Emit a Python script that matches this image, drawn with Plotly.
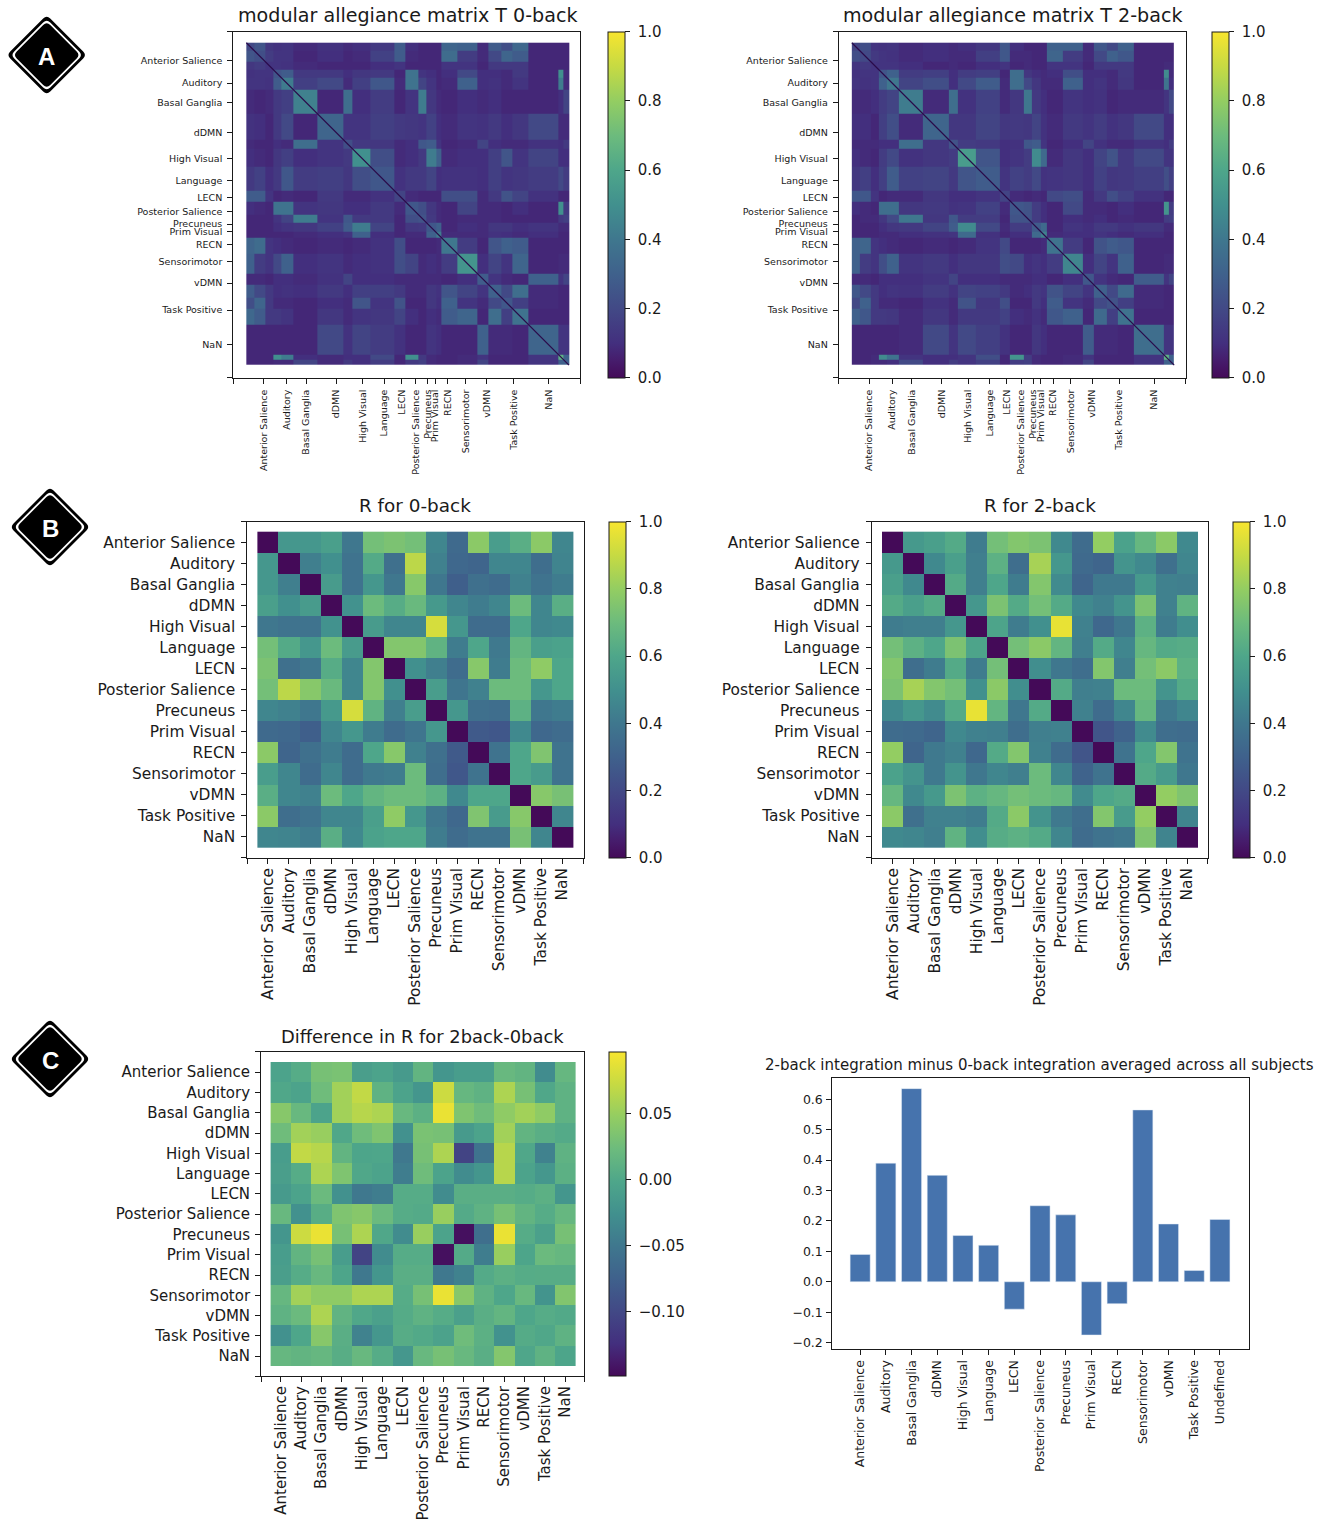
import plotly.graph_objects as go

W, H = 1325, 1526

networks = ["Anterior Salience", "Auditory", "Basal Ganglia", "dDMN", "High Visual", "Language", "LECN",
            "Posterior Salience", "Precuneus", "Prim Visual", "RECN", "Sensorimotor", "vDMN", "Task Positive", "NaN"]
bar_labels = networks[:-1] + ["Undefined"]
module_ticks = [13, 30, 44.6, 67, 86.5, 102.5, 115.5, 126, 135, 140.5, 150, 163, 179, 199, 225]

# node blocks (block edges, then upper triangles)
block_edges = [0, 6, 14, 20, 26, 35, 53, 72, 79, 92, 110, 118, 128, 134, 141, 145, 157, 172, 180, 190, 198, 210, 232, 236, 240]
diagonal_ends = [0, 240]

t_0back = [
    [.20, .25, .13, .11, .12, .09, .11, .09, .10, .14, .28, .10, .08, .08, .08, .32, .30, .09, .28, .22, .33, .08, .08],
    [.22, .15, .12, .12, .08, .10, .08, .09, .17, .28, .09, .08, .08, .08, .35, .15, .09, .20, .32, .28, .08, .08],
    [.12, .12, .11, .09, .08, .08, .08, .10, .12, .08, .08, .08, .08, .12, .12, .08, .14, .14, .14, .08, .08],
    [.25, .28, .14, .14, .10, .13, .14, .08, .38, .12, .10, .08, .10, .20, .10, .10, .09, .14, .08, .50],
    [.42, .16, .20, .09, .16, .26, .09, .38, .18, .12, .08, .09, .30, .10, .11, .09, .12, .08, .42],
    [.44, .08, .36, .10, .15, .08, .12, .42, .13, .09, .08, .10, .09, .10, .08, .08, .08, .10],
    [.32, .12, .12, .16, .14, .13, .12, .17, .10, .09, .12, .11, .14, .10, .13, .20, .09],
    [.22, .14, .13, .09, .10, .26, .28, .12, .08, .09, .18, .10, .09, .09, .11, .10],
    [.50, .22, .09, .10, .14, .42, .30, .09, .10, .10, .16, .25, .12, .18, .10],
    [.26, .11, .14, .14, .18, .10, .11, .11, .10, .16, .12, .13, .15, .20],
    [.18, .09, .08, .08, .08, .22, .22, .09, .14, .24, .18, .11, .08],
    [.26, .22, .13, .09, .08, .18, .09, .09, .08, .10, .08, .50],
    [.24, .14, .09, .08, .09, .09, .09, .08, .08, .08, .14],
    [.26, .30, .08, .10, .09, .13, .13, .10, .12, .09],
    [.42, .09, .09, .09, .11, .10, .09, .10, .08],
    [.40, .15, .08, .25, .30, .28, .08, .08],
    [.52, .10, .18, .12, .32, .08, .09],
    [.28, .12, .09, .08, .30, .12],
    [.30, .20, .36, .09, .08],
    [.26, .16, .09, .08],
    [.38, .08, .08],
    [.32, .12],
    [.65],
]
t_0back_tail = [.08, .08, .08, .09, .09, .18, .09, .14, .10, .15, .08, .14, .16, .09, .08, .08, .09, .18, .08, .08, .08, .12, .30, .30]

t_2back = [
    [.18, .22, .12, .11, .12, .09, .10, .09, .10, .13, .26, .10, .08, .08, .08, .30, .30, .09, .26, .20, .30, .08, .08],
    [.20, .14, .12, .11, .09, .10, .09, .09, .16, .26, .09, .09, .08, .08, .32, .15, .09, .20, .30, .26, .08, .08],
    [.12, .12, .12, .10, .08, .09, .08, .10, .12, .08, .09, .08, .08, .12, .12, .08, .14, .14, .14, .08, .09],
    [.25, .30, .15, .16, .10, .15, .16, .08, .36, .13, .10, .09, .10, .22, .10, .10, .09, .14, .08, .48],
    [.40, .18, .22, .10, .20, .28, .09, .36, .20, .13, .09, .09, .30, .10, .12, .09, .13, .08, .38],
    [.42, .09, .36, .11, .17, .09, .13, .40, .14, .10, .08, .12, .10, .11, .08, .09, .09, .12],
    [.32, .13, .13, .18, .13, .14, .13, .18, .11, .09, .14, .12, .15, .11, .13, .20, .10],
    [.24, .15, .14, .10, .11, .26, .28, .12, .08, .10, .18, .11, .09, .09, .12, .10],
    [.56, .25, .10, .12, .15, .48, .34, .09, .13, .10, .18, .24, .14, .20, .12],
    [.28, .12, .17, .15, .20, .11, .12, .13, .10, .17, .13, .14, .16, .22],
    [.18, .09, .08, .09, .08, .20, .22, .09, .14, .22, .17, .11, .08],
    [.26, .24, .15, .10, .08, .20, .09, .09, .08, .10, .08, .52],
    [.24, .15, .10, .08, .10, .09, .10, .08, .09, .08, .15],
    [.28, .34, .08, .12, .10, .14, .14, .11, .13, .09],
    [.44, .09, .10, .10, .12, .10, .09, .10, .08],
    [.38, .15, .08, .24, .28, .26, .08, .08],
    [.46, .10, .18, .12, .30, .08, .09],
    [.26, .12, .09, .08, .28, .12],
    [.30, .20, .34, .09, .08],
    [.24, .16, .09, .08],
    [.38, .08, .08],
    [.36, .12],
    [.65],
]
t_2back_tail = [.08, .08, .09, .09, .10, .20, .10, .15, .12, .16, .08, .15, .16, .09, .08, .08, .09, .18, .08, .08, .08, .12, .30, .30]

r_0back = [
    [0, .53, .53, .57, .40, .72, .74, .72, .46, .34, .78, .56, .64, .78, .46],
    [.53, 0, .43, .50, .38, .62, .37, .88, .44, .33, .32, .46, .46, .36, .45],
    [.53, .43, 0, .55, .38, .53, .40, .77, .40, .29, .37, .35, .44, .38, .42],
    [.57, .50, .55, 0, .51, .70, .63, .69, .54, .46, .42, .46, .70, .46, .64],
    [.40, .38, .38, .51, 0, .55, .46, .46, .93, .53, .35, .35, .60, .46, .47],
    [.72, .62, .53, .70, .55, 0, .76, .76, .66, .42, .60, .41, .67, .57, .58],
    [.74, .37, .40, .63, .46, .76, 0, .50, .43, .35, .77, .42, .70, .79, .60],
    [.72, .88, .77, .69, .46, .76, .50, 0, .56, .39, .44, .70, .70, .53, .60],
    [.46, .44, .40, .54, .93, .66, .43, .56, 0, .53, .37, .36, .65, .40, .42],
    [.34, .33, .29, .46, .53, .42, .35, .39, .53, 0, .27, .26, .47, .33, .35],
    [.78, .32, .37, .42, .35, .60, .77, .44, .37, .27, 0, .38, .60, .75, .38],
    [.56, .46, .35, .46, .35, .41, .42, .70, .36, .26, .38, 0, .60, .55, .38],
    [.64, .46, .44, .70, .60, .67, .70, .70, .65, .47, .60, .60, 0, .77, .73],
    [.78, .36, .38, .46, .46, .57, .79, .53, .40, .33, .75, .55, .77, 0, .46],
    [.46, .45, .42, .64, .47, .58, .60, .60, .42, .35, .38, .38, .73, .46, 0],
]
r_2back = [
    [0, .54, .57, .62, .42, .72, .76, .74, .47, .35, .80, .58, .68, .78, .47],
    [.54, 0, .47, .57, .43, .65, .36, .84, .53, .34, .32, .52, .47, .37, .46],
    [.57, .47, 0, .62, .43, .60, .42, .76, .48, .32, .41, .41, .54, .44, .43],
    [.62, .57, .62, 0, .53, .74, .62, .72, .62, .47, .44, .52, .74, .44, .66],
    [.42, .43, .43, .53, 0, .59, .42, .50, .97, .44, .33, .40, .65, .42, .49],
    [.72, .65, .60, .74, .59, 0, .72, .78, .67, .43, .62, .46, .68, .62, .63],
    [.76, .36, .42, .62, .42, .72, 0, .49, .40, .36, .76, .43, .72, .78, .65],
    [.74, .84, .76, .72, .50, .78, .49, 0, .62, .43, .44, .70, .70, .52, .62],
    [.47, .53, .48, .62, .97, .67, .40, .62, 0, .44, .35, .46, .68, .41, .46],
    [.35, .34, .32, .47, .44, .43, .36, .43, .44, 0, .25, .31, .48, .36, .35],
    [.80, .32, .41, .44, .33, .62, .76, .44, .35, .25, 0, .38, .60, .76, .38],
    [.58, .52, .41, .52, .40, .46, .43, .70, .46, .31, .38, 0, .62, .55, .40],
    [.68, .47, .54, .74, .65, .68, .72, .70, .68, .48, .60, .62, 0, .80, .75],
    [.78, .37, .44, .44, .42, .62, .78, .52, .41, .36, .76, .55, .80, 0, .45],
    [.47, .46, .43, .66, .49, .63, .65, .62, .46, .35, .38, .40, .75, .45, 0],
]
r_diff = [
    [-.005, .005, .03, .032, -.01, -.005, -.015, .015, -.02, -.012, -.012, .02, .015, -.03, .018],
    [0, -.005, .025, .055, .07, .012, -.005, -.02, .075, .018, .012, .06, .03, 0, .012],
    [.04, .02, -.005, .055, .065, .06, .02, .01, .09, .035, .025, .045, .055, .045, .012],
    [.025, .055, .05, 0, .025, .035, -.025, .032, .03, -.015, -.005, .055, .015, .008, .003],
    [-.012, .07, .065, .015, -.003, -.002, -.05, .03, .06, -.105, -.055, .065, 0, -.04, .012],
    [-.01, .005, .06, .035, 0, -.005, -.045, .025, -.005, -.03, -.02, .065, -.005, -.018, .01],
    [-.015, -.005, .022, -.025, -.05, -.045, .005, .005, -.03, .008, .008, .008, .005, .01, -.02],
    [.02, -.025, .007, .035, .04, .022, .005, .003, .05, .003, .012, .03, .015, .005, .018],
    [-.02, .075, .09, .03, .06, 0, -.03, .05, -.005, -.145, -.06, .09, .005, -.008, .03],
    [-.012, .015, .03, -.012, -.105, -.03, .005, .005, -.145, .003, -.045, .05, -.003, .022, .018],
    [-.01, .005, .02, -.003, -.05, -.02, .008, .008, -.05, -.04, .003, .01, .005, .006, .006],
    [.018, .055, .045, .045, .06, .06, .005, .03, .09, .04, .012, -.002, .02, -.022, .037],
    [.012, .022, .06, .014, 0, -.008, .004, .012, .005, -.008, .008, .016, -.002, .005, .002],
    [-.025, -.002, .04, .008, -.04, -.018, .006, .002, -.006, .025, .01, -.024, .004, 0, .012],
    [.018, .015, .018, .007, .02, .005, -.018, .02, .03, .02, .008, .038, -.001, .012, -.003],
]
integration_diff = [.09, .39, .635, .35, .152, .12, -.09, .25, .22, -.175, -.072, .565, .19, .037, .205]
bar_ticks = [-.2, -.1, 0, .1, .2, .3, .4, .5, .6]

# viridis as it looks in the (washed out) figure
washed_viridis = [[0, "#440a58"], [.05, "#461c6c"], [.1, "#432f7e"], [.2, "#424986"], [.3, "#3f618c"], [.4, "#3f778e"],
                  [.5, "#41908e"], [.6, "#4ea68a"], [.7, "#6cbb7d"], [.8, "#93cd62"], [.9, "#c6da43"], [1, "#f7e52f"]]

INK = "#1a1a1a"
FONT = "DejaVu Sans"


def full_matrix(rows, tail=None):
    rows = [list(r) for r in rows]
    if tail:
        for i, row in enumerate(rows):
            row.append(tail[i])
        rows.append([tail[len(rows)]])
    n = len(rows)
    m = [[0] * n for _ in range(n)]
    for i, row in enumerate(rows):
        for k, v in enumerate(row):
            m[i][i + k] = v
            m[i + k][i] = v
    return m


fig = go.Figure()
axis_no = 0


def add_axes(frame, xr, yr, xticks, yticks, xtext, ytext, size, x_off, y_off):
    # frame is in pixels: left, right, top, bottom
    global axis_no
    axis_no += 1
    s = "" if axis_no == 1 else str(axis_no)
    base = dict(showgrid=False, zeroline=False, showline=True, mirror=True, linecolor=INK, linewidth=1.2,
                ticks="outside", ticklen=5, tickwidth=1, tickcolor=INK, tickmode="array",
                tickfont=dict(family=FONT, size=size, color=INK), automargin=False)
    fig.update_layout({
        "xaxis" + s: dict(base, domain=[frame[0] / W, frame[1] / W], range=xr, anchor="y" + s, ticklabelstandoff=x_off,
                          tickvals=xticks, ticktext=xtext, tickangle=-90),
        "yaxis" + s: dict(base, domain=[1 - frame[3] / H, 1 - frame[2] / H], range=yr, anchor="x" + s,
                          ticklabelstandoff=y_off, tickvals=yticks, ticktext=ytext),
    })
    return "x" + s, "y" + s


def colorbar(frame, left, width, ticks, text=None):
    labels = text if text else [f"{t:.1f}" for t in ticks]
    return dict(x=left / W, xanchor="left", xpad=0, ypad=0, y=1 - frame[3] / H, yanchor="bottom",
                len=(frame[3] - frame[2]) / H, thickness=width, outlinewidth=1, outlinecolor=INK,
                ticks="outside", ticklen=5, tickcolor=INK, tickmode="array", tickvals=ticks,
                ticktext=["\u00a0" + t for t in labels],
                tickfont=dict(family=FONT, size=15, color=INK))


def allegiance(rows, tail, frame, cb_left):
    xr, yr = [-9.7, 248.5], [249.4, -8.2]
    xa, ya = add_axes(frame, xr, yr, [xr[0]] + module_ticks + [xr[1]], [yr[1]] + module_ticks + [yr[0]],
                      [""] + networks + [""], [""] + networks + [""], 9.5, 2, 3)
    fig.add_trace(go.Heatmap(z=full_matrix(rows, tail), x=block_edges, y=block_edges, xaxis=xa, yaxis=ya, zmin=0, zmax=1,
                             colorscale=washed_viridis, colorbar=colorbar(frame, cb_left, 17, [0, .2, .4, .6, .8, 1])))
    fig.add_trace(go.Scatter(x=diagonal_ends, y=diagonal_ends, xaxis=xa, yaxis=ya, mode="lines",
                             line=dict(color="#2a0a4a", width=1.2), showlegend=False))


def region_matrix(z, frame, data_box, cb_left, zmin, zmax, ticks, size, x_off, y_off, text=None):
    wx = (data_box[1] - data_box[0]) / 15
    wy = (data_box[3] - data_box[2]) / 15
    xr = [-.5 - (data_box[0] - frame[0]) / wx, 14.5 + (frame[1] - data_box[1]) / wx]
    yr = [14.5 + (frame[3] - data_box[3]) / wy, -.5 - (data_box[2] - frame[2]) / wy]
    idx = list(range(15))
    xa, ya = add_axes(frame, xr, yr, [xr[0]] + idx + [xr[1]], [yr[1]] + idx + [yr[0]],
                      [""] + networks + [""], [""] + networks + [""], size, x_off, y_off)
    fig.add_trace(go.Heatmap(z=z, x=idx, y=idx, xaxis=xa, yaxis=ya, zmin=zmin, zmax=zmax, colorscale=washed_viridis,
                             colorbar=colorbar(frame, cb_left, 17, ticks, text)))


allegiance(t_0back, t_0back_tail, (233.3, 580.4, 31.7, 377.7), 607.6)
allegiance(t_2back, t_2back_tail, (838.8, 1185.6, 31.7, 377.7), 1212)

region_matrix(r_0back, (247.4, 583.5, 521.7, 857.7), (257.4, 573, 531.7, 847.3), 609, 0, 1, [0, .2, .4, .6, .8, 1], 15.4, -2, 3)
region_matrix(r_2back, (871.8, 1207.9, 521.7, 857.7), (882, 1197.9, 531.7, 847.3), 1233.2, 0, 1, [0, .2, .4, .6, .8, 1], 15.4, -2, 3)
region_matrix(r_diff, (261.2, 584.4, 1051.7, 1376), (270.6, 575.4, 1062, 1366.3), 609.3, -.149, .0967,
              [-.1, -.05, 0, .05], 15, -2, 2, ["\u22120.10", "\u22120.05", "0.00", "0.05"])

bar_x = list(range(15))
xa, ya = add_axes((832.4, 1248.7, 1078.3, 1349), [-1.08, 15.12], [-.221, .669], bar_x, bar_ticks, bar_labels,
                  [f"{t:.1f}".replace("-", "\u2212") for t in bar_ticks], 12.5, 0, 1)
fig.add_trace(go.Bar(x=bar_x, y=integration_diff, xaxis=xa, yaxis=ya, width=.78, marker=dict(color="#4673ad"),
                     showlegend=False))

titles = [("modular allegiance matrix T 0-back", 407.5, 15.7, 19.1), ("modular allegiance matrix T 2-back", 1012, 15.7, 19.1),
          ("R for 0-back", 415.4, 505.7, 18.4), ("R for 2-back", 1039.6, 505.7, 18.4),
          ("Difference in R for 2back-0back", 422.3, 1036.7, 17.9),
          ("2-back integration minus 0-back integration averaged across all subjects", 1039.3, 1065, 15)]
annotations = [dict(text=t, x=x / W, y=1 - y / H, xref="paper", yref="paper", showarrow=False, xanchor="center",
                    yanchor="middle", font=dict(family=FONT, size=s, color=INK)) for t, x, y, s in titles]


def diamond(cx, cy, r, color):
    # rounded diamond outline in paper coordinates
    c = 5
    pts = [(cx, cy - r), (cx + r, cy), (cx, cy + r), (cx - r, cy)]
    path = ""
    for i, (px, py) in enumerate(pts):
        ax, ay = pts[i - 1]
        bx, by = pts[(i + 1) % 4]
        d = ((px - ax) ** 2 + (py - ay) ** 2) ** .5
        p1 = (px + (ax - px) * c / d, py + (ay - py) * c / d)
        p2 = (px + (bx - px) * c / d, py + (by - py) * c / d)
        path += ("M" if i == 0 else "L") + f"{p1[0] / W:.5f},{1 - p1[1] / H:.5f}"
        path += f" Q{px / W:.5f},{1 - py / H:.5f} {p2[0] / W:.5f},{1 - p2[1] / H:.5f} "
    return dict(type="path", xref="paper", yref="paper", path=path + "Z", fillcolor=color, line=dict(width=0), layer="below")


shapes = []
for letter, cx, cy in [("A", 46.7, 55), ("B", 50, 527), ("C", 50, 1059)]:
    shapes += [diamond(cx, cy, 40, "black"), diamond(cx, cy, 36, "white"), diamond(cx, cy, 33.5, "black")]
    annotations.append(dict(text=f"<b>{letter}</b>", x=cx / W, y=1 - (cy + 1) / H, xref="paper", yref="paper",
                            xanchor="center", yanchor="middle", showarrow=False,
                            font=dict(family="Liberation Sans", size=24, color="white")))

fig.update_layout(width=W, height=H, margin=dict(l=0, r=0, t=0, b=0), paper_bgcolor="white", plot_bgcolor="white",
                  showlegend=False, annotations=annotations, shapes=shapes)

fig.write_html("out.html", post_script="document.body.style.margin='0';", config=dict(displayModeBar=False))
